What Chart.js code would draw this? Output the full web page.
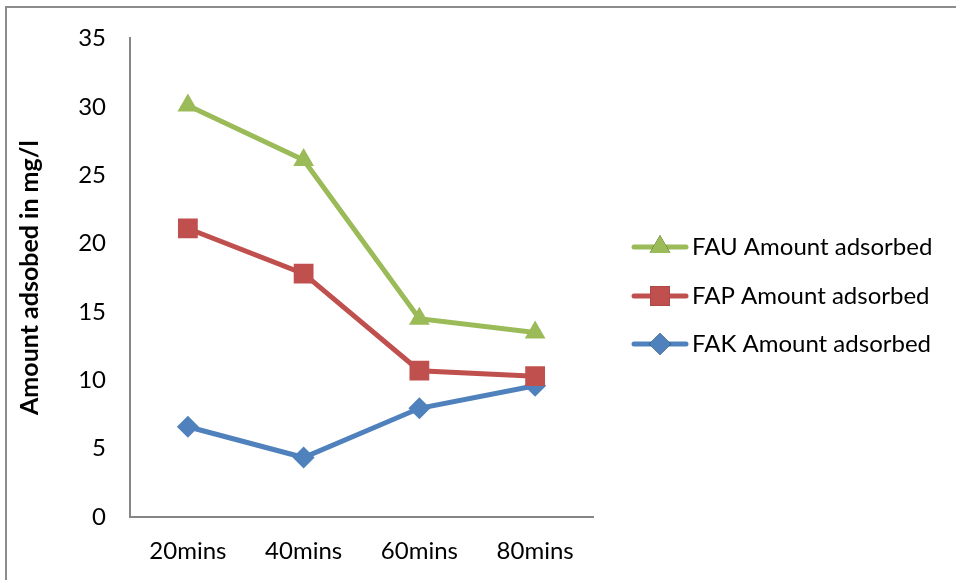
<!DOCTYPE html>
<html>
<head>
<meta charset="utf-8">
<script src="https://cdn.jsdelivr.net/npm/chart.js@4.4.1/dist/chart.umd.min.js"></script>
<style>
  html, body { margin: 0; padding: 0; background: #fff; }
  #wrap { width: 956px; height: 580px; }
</style>
</head>
<body>
<div id="wrap"><canvas id="adsChart" width="956" height="580"></canvas></div>
<script>
const categories = ["20mins", "40mins", "60mins", "80mins"];
const fauValues = [30.1, 26.1, 14.5, 13.5];
const fapValues = [21.1, 17.8, 10.7, 10.3];
const fakValues = [6.6, 4.35, 7.95, 9.6];
const yTicks = [0, 5, 10, 15, 20, 25, 30, 35];
const seriesLabels = ["FAU Amount adsorbed", "FAP Amount adsorbed", "FAK Amount adsorbed"];

const FONT = "Lato, 'Open Sans', sans-serif";

// outer frame (only top + left edges show in the picture)
const framePlugin = {
  id: "frame",
  beforeDraw(chart) {
    const ctx = chart.ctx;
    ctx.save();
    ctx.strokeStyle = "#8c8c8c";
    ctx.lineWidth = 2;
    ctx.beginPath();
    ctx.moveTo(6, 600);
    ctx.lineTo(6, 7);
    ctx.lineTo(960, 7);
    ctx.stroke();
    ctx.restore();
  }
};

// legend: line segment + marker, then label
const legendPlugin = {
  id: "sideLegend",
  afterDraw(chart) {
    const ctx = chart.ctx;
    const rows = [247, 296, 344];
    ctx.save();
    chart.data.datasets.forEach((ds, k) => {
      const y = rows[k];
      ctx.strokeStyle = ds.borderColor;
      ctx.lineWidth = 5;
      ctx.lineCap = "round";
      ctx.beginPath();
      ctx.moveTo(634, y);
      ctx.lineTo(686, y);
      ctx.stroke();
      Chart.helpers.drawPoint(ctx, {
        pointStyle: ds.pointStyle,
        radius: ds.pointRadius,
        rotation: 0,
        borderWidth: 0
      }, 660, y);
      ctx.fillStyle = ds.pointBackgroundColor;
      ctx.fill();
      ctx.fillStyle = "#000";
      ctx.font = "24px " + FONT;
      ctx.textBaseline = "middle";
      ctx.textAlign = "left";
      ctx.fillText(ds.label, 692, y);
    });
    ctx.restore();
  }
};

new Chart(document.getElementById("adsChart").getContext("2d"), {
  type: "line",
  data: {
    labels: categories,
    datasets: [
      {
        label: seriesLabels[0],
        data: fauValues,
        borderColor: "#9bbb59",
        backgroundColor: "#9bbb59",
        pointBackgroundColor: "#9bbb59",
        pointBorderColor: "#9bbb59",
        pointStyle: "triangle",
        pointRadius: 12,
        pointBorderWidth: 0,
        borderWidth: 5
      },
      {
        label: seriesLabels[1],
        data: fapValues,
        borderColor: "#c0504d",
        backgroundColor: "#c0504d",
        pointBackgroundColor: "#c0504d",
        pointBorderColor: "#c0504d",
        pointStyle: "rect",
        pointRadius: 14,
        pointBorderWidth: 0,
        borderWidth: 5
      },
      {
        label: seriesLabels[2],
        data: fakValues,
        borderColor: "#4f81bd",
        backgroundColor: "#4f81bd",
        pointBackgroundColor: "#4f81bd",
        pointBorderColor: "#4f81bd",
        pointStyle: "rectRot",
        pointRadius: 11,
        pointBorderWidth: 0,
        borderWidth: 5
      }
    ]
  },
  options: {
    responsive: false,
    animation: false,
    events: [],
    layout: { padding: { left: 6, top: 37, right: 363, bottom: 0 } },
    plugins: {
      legend: { display: false },
      tooltip: { enabled: false }
    },
    scales: {
      x: {
        offset: true,
        afterFit(scale) { scale.height = 63; },
        grid: { display: false, drawTicks: false },
        border: { display: true, color: "#868686", width: 2 },
        ticks: { color: "#000", font: { family: FONT, size: 24 }, padding: 20 }
      },
      y: {
        min: 0,
        max: 35,
        afterBuildTicks(scale) {
          scale.ticks = yTicks.map(v => ({ value: v }));
        },
        afterFit(scale) { scale.width = 124; },
        grid: { display: false, drawTicks: false },
        border: { display: true, color: "#868686", width: 2 },
        ticks: { color: "#000", font: { family: FONT, size: 24 }, padding: 24 },
        title: {
          display: true,
          text: "Amount adsobed in mg/l",
          color: "#000",
          font: { family: FONT, size: 25, weight: "bold" },
          padding: { top: 9, bottom: 0 }
        }
      }
    }
  },
  plugins: [framePlugin, legendPlugin]
});
</script>
</body>
</html>
